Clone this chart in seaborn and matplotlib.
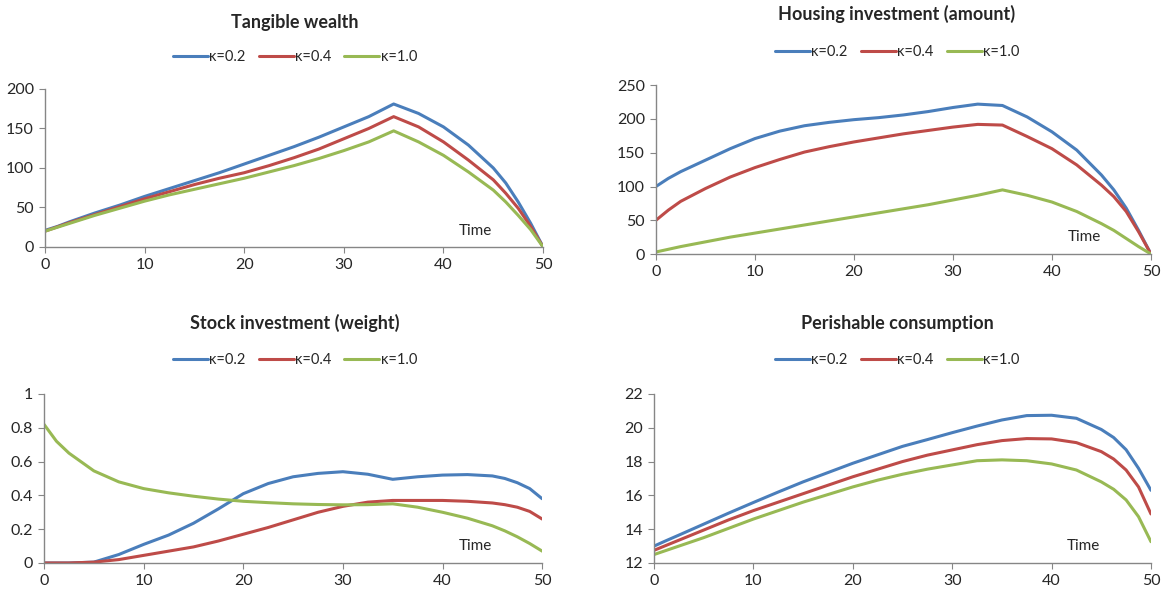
import matplotlib
matplotlib.use("Agg")
import matplotlib.pyplot as plt
import seaborn as sns
import numpy as np
import pandas as pd

# time grid shared by all panels
time = [0, 1.25, 2.5, 5, 7.5, 10, 12.5, 15, 17.5, 20, 22.5, 25, 27.5, 30,
        32.5, 35, 37.5, 40, 42.5, 45, 46.25, 47.5, 48.75, 50]
labels = ["κ=0.2", "κ=0.4", "κ=1.0"]

wealth_02 = [21, 26, 32, 43, 53, 64, 74, 84, 94, 105, 116, 127, 139, 152,
             165, 181, 169, 152, 129, 100, 81, 57, 30, 0]
wealth_04 = [20, 25.5, 31, 41, 51, 61, 70, 79, 87, 94, 103, 113, 124, 137,
             150, 165, 152, 133, 110, 85, 68, 49, 26, 0]
wealth_10 = [20, 25, 30, 40, 49, 58, 66, 73, 80, 87, 95, 103, 112, 122,
             133, 147, 133, 116, 95, 72, 57, 40, 22, 0]

housing_02 = [100, 112, 122, 139, 156, 171, 182, 190, 195, 199, 202, 206, 211, 217,
              222, 220, 203, 181, 154, 117, 95, 68, 35, 0]
housing_04 = [50, 65, 78, 97, 114, 128, 140, 151, 159, 166, 172, 178, 183, 188,
              192, 191, 174, 156, 132, 102, 85, 63, 33, 0]
housing_10 = [3, 7, 11, 18, 25, 31, 37, 43, 49, 55, 61, 67, 73, 80,
              87, 95, 87, 77, 63, 45, 35, 23, 11, 0]

stock_02 = [0, 0, 0, 0.005, 0.05, 0.11, 0.165, 0.235, 0.32, 0.41, 0.47, 0.51, 0.53, 0.54,
            0.525, 0.495, 0.51, 0.52, 0.523, 0.515, 0.5, 0.475, 0.44, 0.38]
stock_04 = [0, 0, 0, 0.005, 0.02, 0.045, 0.07, 0.095, 0.13, 0.17, 0.21, 0.255, 0.3, 0.335,
            0.36, 0.37, 0.37, 0.37, 0.365, 0.355, 0.345, 0.33, 0.305, 0.26]
stock_10 = [0.82, 0.72, 0.65, 0.545, 0.48, 0.44, 0.415, 0.395, 0.378, 0.365, 0.357, 0.35, 0.346, 0.344,
            0.345, 0.35, 0.33, 0.3, 0.265, 0.22, 0.19, 0.155, 0.115, 0.07]

cons_02 = [13.0, 13.33, 13.65, 14.3, 14.95, 15.58, 16.2, 16.8, 17.35, 17.9, 18.4, 18.9, 19.3, 19.71,
           20.1, 20.46, 20.72, 20.74, 20.56, 19.9, 19.42, 18.7, 17.6, 16.3]
cons_04 = [12.75, 13.05, 13.35, 13.95, 14.55, 15.1, 15.6, 16.1, 16.6, 17.1, 17.55, 18.0, 18.38, 18.69,
           19.0, 19.24, 19.36, 19.34, 19.12, 18.59, 18.15, 17.5, 16.5, 14.9]
cons_10 = [12.5, 12.75, 13.0, 13.5, 14.05, 14.6, 15.1, 15.6, 16.05, 16.5, 16.9, 17.25, 17.55, 17.8,
           18.05, 18.1, 18.05, 17.86, 17.5, 16.8, 16.36, 15.73, 14.74, 13.26]

palette = ["#4A7EBB", "#BE4B48", "#98B954"]

sns.set_style("white")
plt.rcParams["font.family"] = ["Lato", "DejaVu Sans"]

fig = plt.figure(figsize=(11.68, 5.96), dpi=100)

panels = [
    ("Tangible wealth", [wealth_02, wealth_04, wealth_10], (0, 200), [0, 50, 100, 150, 200],
     [0.0385, 0.5856, 0.4265, 0.2651], (0.2525, 0.962), (0.2525, 0.904)),
    ("Housing investment (amount)", [housing_02, housing_04, housing_10], (0, 250), [0, 50, 100, 150, 200, 250],
     [0.5616, 0.5738, 0.4238, 0.2832], (0.768, 0.976), (0.768, 0.913)),
    ("Stock investment (weight)", [stock_02, stock_04, stock_10], (0, 1), [0, 0.2, 0.4, 0.6, 0.8, 1],
     [0.0377, 0.0554, 0.4265, 0.2836], (0.2525, 0.458), (0.2525, 0.396)),
    ("Perishable consumption", [cons_02, cons_04, cons_10], (12, 22), [12, 14, 16, 18, 20, 22],
     [0.5600, 0.0554, 0.4254, 0.2836], (0.768, 0.458), (0.768, 0.396)),
]

for title, series, ylim, yticks, rect, tpos, lpos in panels:
    ax = fig.add_axes(rect)
    df = pd.DataFrame({
        "Time": time * 3,
        "value": series[0] + series[1] + series[2],
        "kappa": [lab for lab in labels for _ in time],
    })
    sns.lineplot(data=df, x="Time", y="value", hue="kappa", palette=palette,
                 linewidth=2.2, ax=ax, legend=True)
    ax.set_xlim(0, 50)
    ax.set_ylim(*ylim)
    ax.set_xticks([0, 10, 20, 30, 40, 50])
    ax.set_yticks(yticks)
    ax.set_yticklabels([f"{v:g}" for v in yticks])
    ax.set_xlabel("")
    ax.set_ylabel("")
    for s in ["top", "right"]:
        ax.spines[s].set_visible(False)
    for s in ["left", "bottom"]:
        ax.spines[s].set_color("#868686")
        ax.spines[s].set_linewidth(1.0)
    ax.tick_params(axis="both", which="major", direction="out", length=4,
                   color="#868686", labelsize=11.5, pad=4, left=True, bottom=True)
    ax.text(0.865, 0.06, "Time", transform=ax.transAxes, ha="center",
            va="bottom", fontsize=11)
    handles, labs = ax.get_legend_handles_labels()
    ax.legend(handles, labs, loc="center", bbox_to_anchor=lpos,
              bbox_transform=fig.transFigure, ncol=3, frameon=False,
              fontsize=10.5, handlelength=2.4, handletextpad=0.1,
              columnspacing=0.9)
    fig.text(tpos[0], tpos[1], title, ha="center", va="center",
             fontsize=13, fontweight="bold")

fig.savefig("out.png", dpi=100)
